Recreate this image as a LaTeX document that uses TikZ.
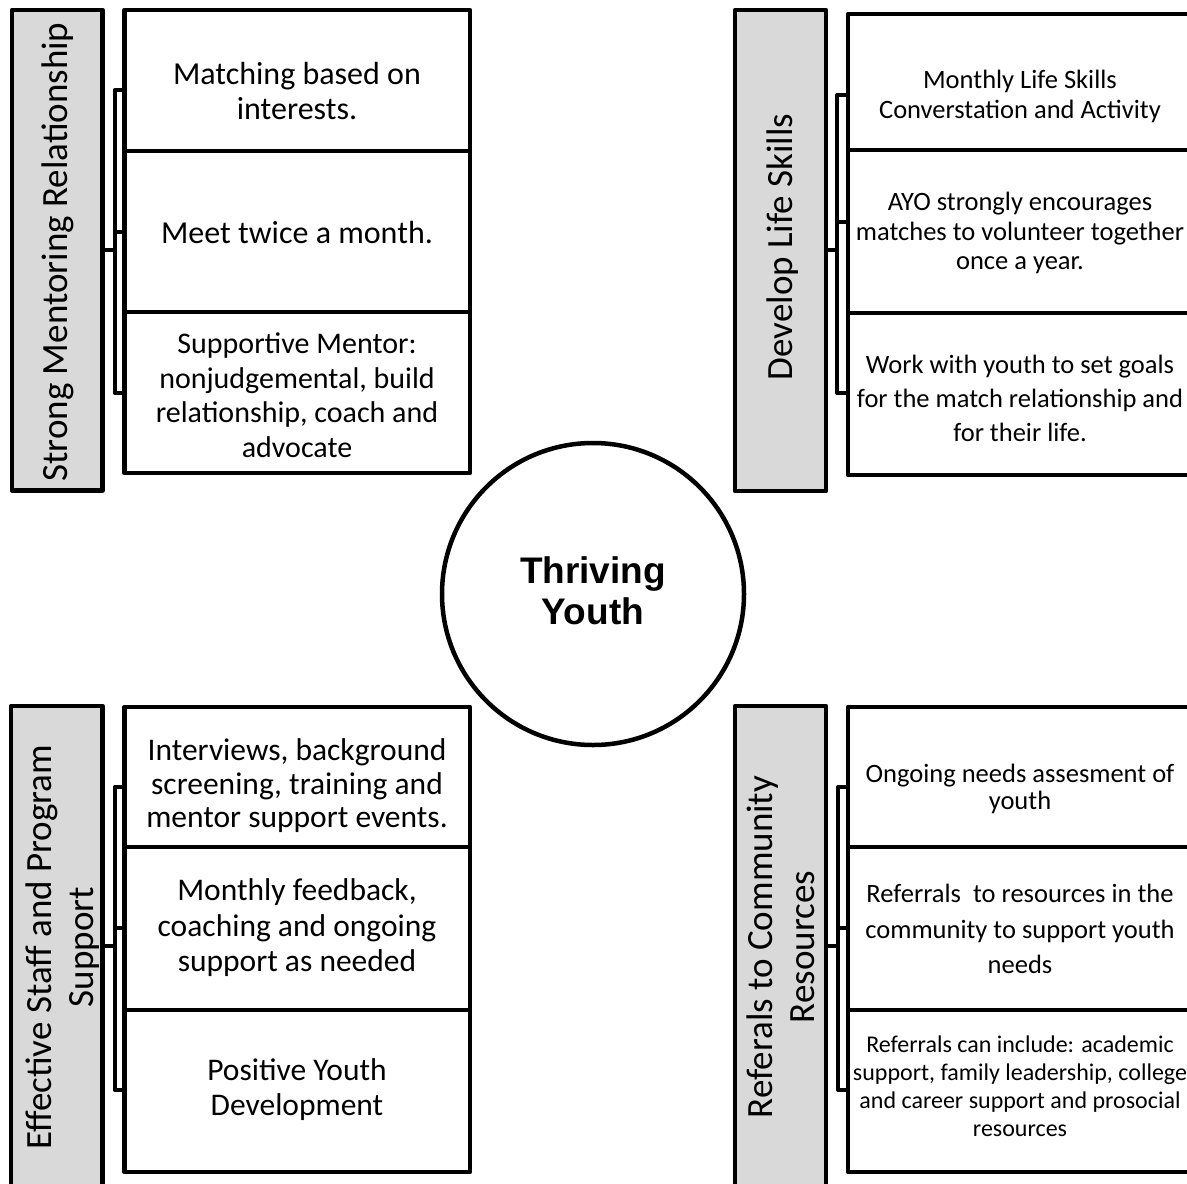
\documentclass[tikz,border=0pt]{standalone}
\usepackage{fontspec}
\setmainfont{Carlito}
\newfontfamily\arialfont{Liberation Sans}
\definecolor{barfill}{HTML}{D9D9D9}
\newcommand\fsz[2]{\fontsize{#1pt}{#2pt}\selectfont}
\begin{document}
\begin{tikzpicture}[x=1pt,y=-1pt,
  ln/.style={line width=4.5pt, line join=round},
  barbox/.style={ln, draw, fill=barfill, rectangle, inner sep=0pt, outer sep=0pt, anchor=north west},
  itembox/.style={ln, draw, fill=white, rectangle, inner sep=0pt, outer sep=0pt, anchor=north west},
  brk/.style={line width=4pt, line join=round},
  txt/.style={align=center, inner sep=0pt},
  bartxt/.style={align=center, inner sep=0pt, rotate=90, font=\fsz{37}{42}}]
\useasboundingbox (0,0) rectangle (1187,1184);
\clip (0,0) rectangle (1187,1184);

% ---------- Top left ----------
\node[barbox, minimum width=90.5pt, minimum height=480.5pt] (tlbar) at (12,10) {};
\node[itembox, minimum width=345.5pt, minimum height=141pt] (tl1) at (124.5,10) {};
\node[itembox, minimum width=345.5pt, minimum height=161pt] (tl2) at (124.5,151) {};
\node[itembox, minimum width=345.5pt, minimum height=161pt] (tl3) at (124.5,312) {};
\node[bartxt] (tlbt) at (58,252) {Strong Mentoring Relationship};
\node[txt, font=\fsz{32}{35}] (tl1t) at (297,91) {Matching based on\\interests.};
\node[txt, font=\fsz{32}{35}] (tl2t) at (297,233) {Meet twice a month.};
\node[txt, font=\fsz{30}{34.5}] (tl3t) at (297,395) {Supportive Mentor:\\nonjudgemental, build\\relationship, coach and\\advocate};
\coordinate (tla) at (114.5,90);
\coordinate (tlb) at (114.5,393);
\draw[brk] (tl1.west |- tla) -- (tla) -- (tlb) -- (tl3.west |- tlb);
\draw[brk] (tl2.west) -- (tl2.west -| tla);
\coordinate (tlc) at (114.5,250);
\draw[brk] (tlbar.east |- tlc) -- (tlc);

% ---------- Top right ----------
\node[barbox, minimum width=91pt, minimum height=481pt] (trbar) at (735,10) {};
\node[itembox, minimum width=346pt, minimum height=136pt] (tr1) at (848,14) {};
\node[itembox, minimum width=346pt, minimum height=163pt] (tr2) at (848,150) {};
\node[itembox, minimum width=346pt, minimum height=162pt] (tr3) at (848,313) {};
\node[bartxt] (trbt) at (783,247) {Develop Life Skills};
\node[txt, font=\fsz{26.5}{30}] (tr1t) at (1020,96) {Monthly Life Skills\\Converstation and Activity};
\node[txt, font=\fsz{26.5}{29.5}] (tr2t) at (1020,233) {AYO strongly encourages\\matches to volunteer together\\once a year.};
\node[txt, font=\fsz{26.5}{34}] (tr3t) at (1020,398) {Work with youth to set goals\\for the match relationship and\\for their life.};
\coordinate (tra) at (837,95);
\coordinate (trb) at (837,393);
\draw[brk] (tr1.west |- tra) -- (tra) -- (trb) -- (tr3.west |- trb);
\coordinate (trm) at (837,222);
\draw[brk] (tr2.west |- trm) -- (trm);
\coordinate (trc) at (837,250);
\draw[brk] (trbar.east |- trc) -- (trc);

% ---------- Bottom left ----------
\node[barbox, minimum width=91.5pt, minimum height=500pt] (blbar) at (11,706) {};
\node[itembox, minimum width=345.5pt, minimum height=140pt] (bl1) at (124.5,707) {};
\node[itembox, minimum width=345.5pt, minimum height=163pt] (bl2) at (124.5,847) {};
\node[itembox, minimum width=345.5pt, minimum height=162pt] (bl3) at (124.5,1010) {};
\node[bartxt] (blbt) at (63,947) {Effective Staff and Program\\Support};
\node[txt, font=\fsz{31.5}{33.5}] (bl1t) at (297,786) {Interviews, background\\screening, training and\\mentor support events.};
\node[txt, font=\fsz{31.5}{35.5}] (bl2t) at (297,928) {Monthly feedback,\\coaching and ongoing\\support as needed};
\node[txt, font=\fsz{31.5}{35}] (bl3t) at (297,1090) {Positive Youth\\Development};
\coordinate (bla) at (114.5,787);
\coordinate (blb) at (114.5,1090);
\draw[brk] (bl1.west |- bla) -- (bla) -- (blb) -- (bl3.west |- blb);
\coordinate (blm) at (114.5,928);
\draw[brk] (bl2.west |- blm) -- (blm);
\coordinate (blc) at (114.5,946);
\draw[brk] (blbar.east |- blc) -- (blc);

% ---------- Bottom right ----------
\node[barbox, minimum width=91pt, minimum height=500pt] (brbar) at (735,706) {};
\node[itembox, minimum width=346pt, minimum height=140pt] (br1) at (848,707) {};
\node[itembox, minimum width=346pt, minimum height=163pt] (br2) at (848,847) {};
\node[itembox, minimum width=346pt, minimum height=162pt] (br3) at (848,1010) {};
\node[bartxt] (brbt) at (781,947) {Referals to Community\\Resources};
\node[txt, font=\fsz{26.5}{27}] (br1t) at (1020,789) {Ongoing needs assesment of\\youth};
\node[txt, font=\fsz{26.5}{35.5}] (br2t) at (1020,929) {Referrals\ \ to resources in the\\community to support youth\\needs};
\node[txt, font=\fsz{24}{28}] (br3t) at (1020,1086) {Referrals can include: academic\\support, family leadership, college\\and career support and prosocial\\resources};
\coordinate (bra) at (838,787);
\coordinate (brb) at (838,1090);
\draw[brk] (br1.west |- bra) -- (bra) -- (brb) -- (br3.west |- brb);
\coordinate (brm) at (838,928);
\draw[brk] (br2.west |- brm) -- (brm);
\coordinate (brc) at (838,946);
\draw[brk] (brbar.east |- brc) -- (brc);

% ---------- Centre ----------
\node[ln, draw, fill=white, circle, minimum size=302pt, inner sep=0pt] (hub) at (593,594) {};
\node[txt, font=\arialfont\bfseries\fsz{37}{41}] (hubt) at (593,591) {Thriving\\Youth};
\end{tikzpicture}
\end{document}
